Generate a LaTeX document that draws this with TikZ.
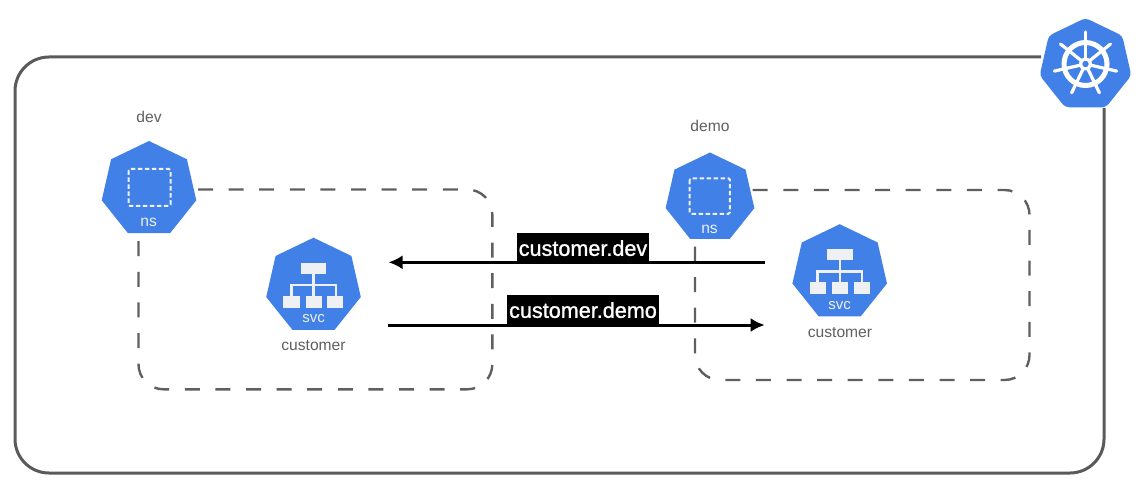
\documentclass[tikz,border=0pt]{standalone}
\usepackage{fontspec}
\setmainfont{Liberation Sans}
\newfontfamily\lblfont[FakeBold=1.2]{Liberation Sans}
\usetikzlibrary{shapes.geometric,arrows.meta}
\definecolor{kblue}{HTML}{4180E6}
\definecolor{frame}{HTML}{5A5A5A}
\definecolor{txt}{HTML}{5F5F5F}
\definecolor{dashc}{HTML}{5F5F5F}
\definecolor{iconc}{HTML}{EEF0F4}
\newcommand{\fs}[1]{\fontsize{#1}{#1}\selectfont}
\tikzset{
  hepta/.style={regular polygon,regular polygon sides=7,fill=kblue,draw=none,inner sep=0pt,outer sep=0pt,minimum size=#1},
  caption/.style={text=txt,font=\fs{15.6},inner sep=0pt},
  inside/.style={text=iconc,font=\fs{15.6},inner sep=0pt},
  framepath/.style={draw=frame,line width=3pt,rounded corners=34pt},
  nsdash/.style={draw=dashc,line width=2.4pt,rounded corners=25pt,dash pattern=on 15pt off 15.6pt},
  flow/.style={draw=black,line width=3pt,-{Latex[length=14pt,width=14pt]}},
  tag/.style={fill=black,text=white,font=\lblfont\fs{21.6},inner sep=0pt,text depth=0pt},
  pics/svcicon/.style={code={
    \draw[iconc,line width=2.4pt] (0,-13) -- (0,-1) (-22.2,10) -- (-22.2,-1) -- (22.2,-1) -- (22.2,10) (0,-1) -- (0,10);
    \fill[iconc] (-12.6,-23.5) rectangle (12.8,-12.2);
    \fill[iconc] (-30.2,9.6) rectangle (-13.8,21.4);
    \fill[iconc] (-7.8,9.6) rectangle (8.2,21.4);
    \fill[iconc] (13.8,9.6) rectangle (29.8,21.4);
  }},
  pics/nsicon/.style={code={
    \draw[iconc,line width=2pt,rounded corners=1.5pt,dash pattern=on 4.5pt off 2.5pt] (-21,-20) rectangle (21,17);
  }}
}
\begin{document}
\begin{tikzpicture}[x=1pt,y=-1pt]
\useasboundingbox (0,0) rectangle (1148,494);
% frame
\coordinate (fa) at (1041,57);
\coordinate (fb) at (1104,108);
\path[framepath] (fa) -- (15,57) -- (15,473) -- (1104,473) -- (fb);
% namespaces
\coordinate (da) at (198,189.5);
\coordinate (db) at (138.5,236.5);
\path[nsdash] (da) -- (492.3,189.5) -- (492.3,389.3) -- (138.5,389.3) -- (db);
\coordinate (ea) at (752.7,190);
\coordinate (eb) at (695,243);
\path[nsdash] (ea) -- (1029.5,190) -- (1029.5,380) -- (695,380) -- (eb);
% kubernetes logo
\node[hepta=94pt,rounded corners=4pt] (k8s) at (1085.5,65) {};
\begin{scope}[shift={(k8s.center)}]
  \draw[white,line width=5pt] (0,-1) circle[radius=21.5];
  \foreach \a in {90,141.43,192.86,244.29,295.71,347.14,398.57}{
    \draw[white,line width=3.2pt,line cap=round] (0,-1) -- ++(\a:-32);
  }
  \fill[white] (0,-1) circle[radius=6.5];
  \fill[kblue] (0,-1) circle[radius=3.2];
\end{scope}
% dev ns
\node[hepta=97pt] (nsdev) at (149,189.5) {};
\pic at (149.5,189) {nsicon};
\node[inside] (nsdevt) at (148.7,222.3) {ns};
\node[caption] (devt) at (149,117) {dev};
% demo ns
\node[hepta=91pt] (nsdemo) at (710,198) {};
\pic[scale=0.96] at (709.8,197.5) {nsicon};
\node[inside] (nsdemot) at (709.5,229) {ns};
\node[caption] (demot) at (710,126) {demo};
% svc dev
\node[hepta=97pt] (svcdev) at (313.5,286.2) {};
\pic at (svcdev.center) {svcicon};
\node[inside,font=\fs{15}] (svcdevt) at (313.5,319) {svc};
\node[caption] (custdev) at (313.5,345.7) {customer};
% svc demo
\node[hepta=97pt] (svcdemo) at (839.7,272.7) {};
\pic at (svcdemo.center) {svcicon};
\node[inside,font=\fs{15}] (svcdemot) at (839.7,306) {svc};
\node[caption] (custdemo) at (840,332.5) {customer};
% arrows
\coordinate (a1) at (765,262.3);
\coordinate (a2) at (388.5,262.3);
\coordinate (b1) at (388.3,325);
\coordinate (b2) at (764.7,325);
\draw[flow] (a1) -- (a2);
\draw[flow] (b1) -- (b2);
\node[tag,minimum width=132pt,minimum height=29pt] (tdev) at (583,248) {customer.dev};
\node[tag,minimum width=152pt,minimum height=30pt] (tdemo) at (583,310) {customer.demo};
\end{tikzpicture}
\end{document}
